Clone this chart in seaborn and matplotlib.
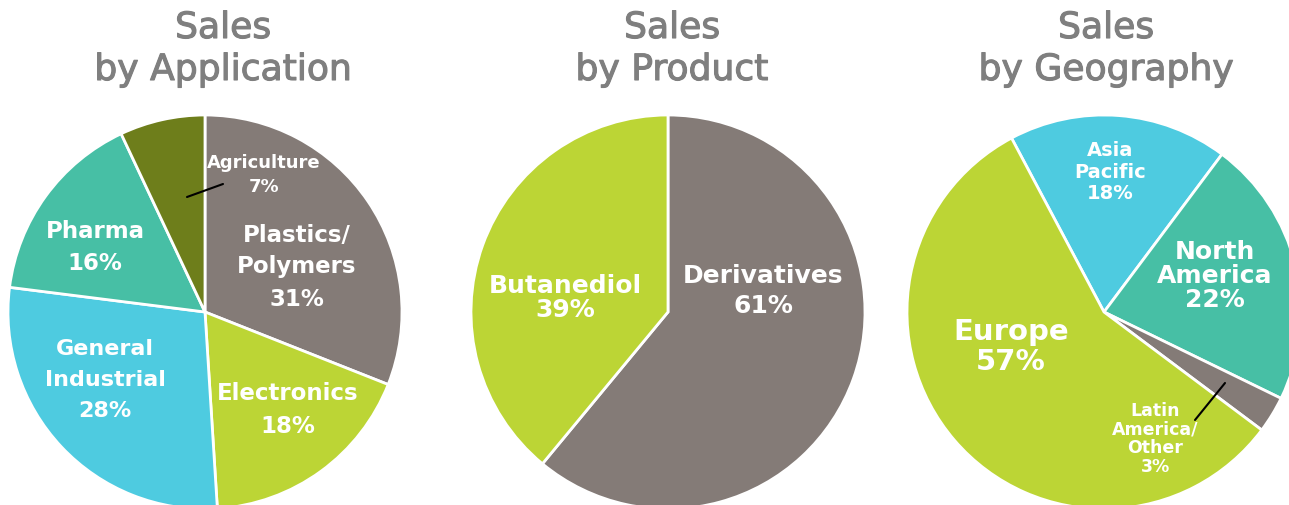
import matplotlib
matplotlib.use("Agg")
import matplotlib.pyplot as plt
import matplotlib.patheffects as pe
import seaborn as sns

sns.set_theme(style="white")
plt.rcParams["font.family"] = ["DejaVu Sans"]

GRAY = "#847b77"
LIME = "#bcd535"
CYAN = "#4ecbe0"
TEAL = "#47bfa5"
OLIVE = "#6e7e1b"

# --- data ---
app_labels = ["Plastics/\nPolymers", "Electronics", "General\nIndustrial", "Pharma", "Agriculture"]
app_values = [31, 18, 28, 16, 7]
app_colors = [GRAY, LIME, CYAN, TEAL, OLIVE]

prod_labels = ["Derivatives", "Butanediol"]
prod_values = [61, 39]
prod_colors = [GRAY, LIME]

geo_labels = ["Asia\nPacific", "North\nAmerica", "Latin\nAmerica/\nOther", "Europe"]
geo_values = [18, 22, 3, 57]
geo_colors = [CYAN, TEAL, GRAY, LIME]

W, H = 1289, 505
fig = plt.figure(figsize=(W / 100, H / 100), dpi=100)
ax = fig.add_axes([0, 0, 1, 1])

R = 197
pies = [
    # values, colors, labels, center, startangle, label (x, y, fontsize, linespacing)
    (app_values, app_colors, app_labels, (205, 312), 90,
     [(297, 267, 16.5, 1.5), (288, 410, 16.5, 1.6), (105, 380, 16, 1.7),
      (95, 247, 16.5, 1.5), (264, 175, 13, 1.5)]),
    (prod_values, prod_colors, prod_labels, (668, 312), 90,
     [(763, 291, 18, 1.3), (565, 298, 18, 1.05)]),
    (geo_values, geo_colors, geo_labels, (1104, 312), 118,
     [(1110, 172, 14, 1.15), (1215, 276, 18, 1.0), (1155, 439, 12.5, 1.05),
      (1011, 347, 21, 1.12)]),
]

for vals, cols, labs, (cx, cy), start, pos in pies:
    ax.pie(vals, colors=cols, startangle=start, counterclock=False,
           center=(cx, -cy), radius=R,
           wedgeprops=dict(edgecolor="white", linewidth=2))
    for lab, v, (x, y, fs, ls) in zip(labs, vals, pos):
        ax.text(x, -y, f"{lab}\n{v}%", ha="center", va="center", color="white",
                fontsize=fs, fontweight="bold", linespacing=ls)

# leader lines for the small slices
ax.plot([187, 223], [-197, -184], color="black", lw=1.5)
ax.plot([1195, 1225], [-420, -383], color="black", lw=1.5)

titles = [("by Application", 223), ("by Product", 672), ("by Geography", 1106)]
stroke = [pe.withStroke(linewidth=0.8, foreground="#7f7f7f")]
for t, x in titles:
    ax.text(x, -38, "Sales", ha="center", va="baseline", color="#7f7f7f",
            fontsize=26, path_effects=stroke)
    ax.text(x, -80, t, ha="center", va="baseline", color="#7f7f7f",
            fontsize=26, path_effects=stroke)

ax.set_xlim(0, W)
ax.set_ylim(-H, 0)
ax.set_aspect("equal")
ax.axis("off")

fig.savefig("out.png", dpi=100)
